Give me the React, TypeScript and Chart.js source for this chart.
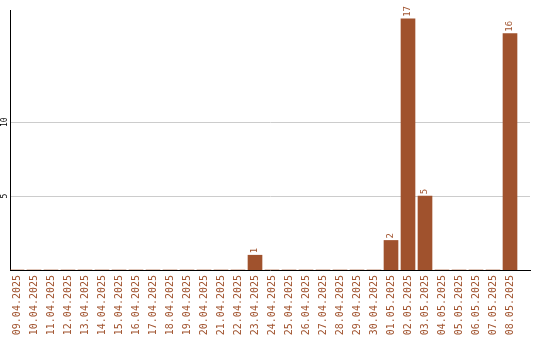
import React, { useEffect, useRef } from "react";
import { Chart, registerables } from "chart.js";

Chart.register(...registerables);

const DATES = [
  "09.04.2025", "10.04.2025", "11.04.2025", "12.04.2025", "13.04.2025",
  "14.04.2025", "15.04.2025", "16.04.2025", "17.04.2025", "18.04.2025",
  "19.04.2025", "20.04.2025", "21.04.2025", "22.04.2025", "23.04.2025",
  "24.04.2025", "25.04.2025", "26.04.2025", "27.04.2025", "28.04.2025",
  "29.04.2025", "30.04.2025", "01.05.2025", "02.05.2025", "03.05.2025",
  "04.05.2025", "05.05.2025", "06.05.2025", "07.05.2025", "08.05.2025",
];
const COUNTS = [
  0, 0, 0, 0, 0, 0, 0, 0, 0, 0,
  0, 0, 0, 0, 1, 0, 0, 0, 0, 0,
  0, 0, 2, 17, 5, 0, 0, 0, 0, 16,
];
const Y_TICKS = [5, 10];

const BROWN = "#A0522D";
const MONO = '"DejaVu Sans Mono", monospace';

const overlayPlugin = {
  id: "overlay",
  afterDatasetsDraw(chart: any) {
    const ctx = chart.ctx;
    const meta = chart.getDatasetMeta(0);
    ctx.save();
    // value labels above bars
    ctx.fillStyle = BROWN;
    ctx.font = `9px ${MONO}`;
    ctx.textAlign = "left";
    ctx.textBaseline = "middle";
    meta.data.forEach((el: any, i: number) => {
      const v = COUNTS[i];
      if (!v) return;
      ctx.save();
      ctx.translate(el.x, el.y - 2);
      ctx.rotate(-Math.PI / 2);
      ctx.fillText(String(v), 0, 0);
      ctx.restore();
    });
    // y tick labels (rotated)
    const ys = chart.scales.y;
    ctx.fillStyle = "#000";
    ctx.font = `8px ${MONO}`;
    ctx.textAlign = "center";
    ctx.textBaseline = "middle";
    ys.ticks.forEach((t: any) => {
      const py = ys.getPixelForValue(t.value);
      ctx.save();
      ctx.translate(4.5, py);
      ctx.rotate(-Math.PI / 2);
      ctx.fillText(String(t.value), 0, 0);
      ctx.restore();
    });
    ctx.restore();
  },
};

export default function App() {
  const ref = useRef<HTMLCanvasElement>(null);
  useEffect(() => {
    if (!ref.current) return;
    const chart = new Chart(ref.current, {
      type: "bar",
      data: {
        datasets: [
          {
            data: COUNTS.map((v, i) => ({ x: i, y: v })),
            backgroundColor: BROWN,
            borderWidth: 0,
            barThickness: 14,
          },
        ],
      },
      options: {
        animation: false,
        responsive: false,
        maintainAspectRatio: false,
        layout: { padding: { top: 10, right: 10, left: 0, bottom: 0 } },
        plugins: { legend: { display: false }, tooltip: { enabled: false } },
        scales: {
          x: {
            type: "linear",
            offset: false,
            min: (10 - 17) / 17,
            max: (530 - 17) / 17,
            afterBuildTicks: (s: any) => {
              s.ticks = DATES.map((_, i) => ({ value: i }));
            },
            afterFit: (s: any) => {
              s.height = 70;
            },
            grid: { display: false, drawTicks: false, offset: false },
            border: { display: true, color: "#000", width: 1 },
            ticks: {
              autoSkip: false,
              minRotation: 90,
              maxRotation: 90,
              padding: 5,
              color: BROWN,
              font: { family: MONO, size: 10 },
              callback: (v: any) => DATES[v] ?? "",
            },
          },
          y: {
            min: 0,
            max: 17.6,
            afterBuildTicks: (s: any) => {
              s.ticks = Y_TICKS.map((v) => ({ value: v }));
            },
            afterFit: (s: any) => {
              s.width = 10;
            },
            grid: { color: "#cccccc", drawTicks: false },
            border: { display: true, color: "#000", width: 1 },
            ticks: { display: false },
          },
        },
      },
      plugins: [overlayPlugin],
    });
    return () => chart.destroy();
  }, []);
  return (
    <div style={{ position: "absolute", left: 0, top: 0, width: 540, height: 340, background: "#fff" }}>
      <canvas ref={ref} width={540} height={340} style={{ width: 540, height: 340 }} />
    </div>
  );
}
